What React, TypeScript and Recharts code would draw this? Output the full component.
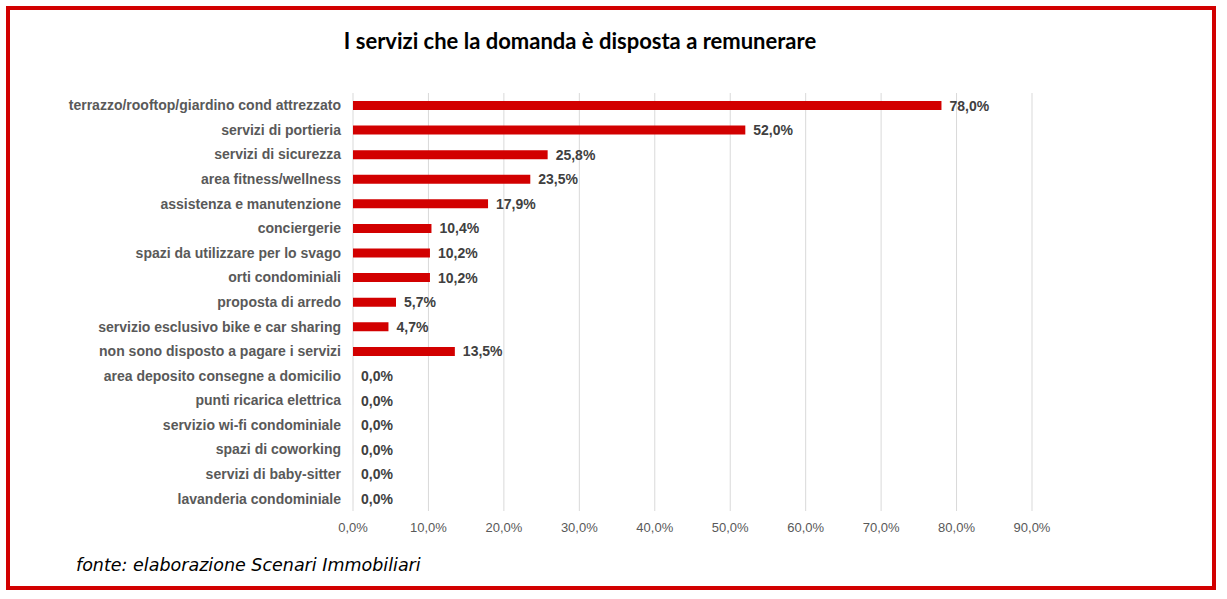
import React from "react";
import {
  BarChart,
  Bar,
  XAxis,
  YAxis,
  CartesianGrid,
  LabelList,
} from "recharts";

const categories = [
  "terrazzo/rooftop/giardino cond attrezzato",
  "servizi di portieria ",
  "servizi di sicurezza",
  "area fitness/wellness",
  "assistenza e manutenzione",
  "conciergerie",
  "spazi da utilizzare per lo svago",
  "orti condominiali",
  "proposta di arredo",
  "servizio esclusivo bike e car sharing",
  "non sono disposto a pagare i servizi ",
  "area deposito consegne a domicilio",
  "punti ricarica elettrica ",
  "servizio wi-fi condominiale",
  "spazi di coworking",
  "servizi di baby-sitter",
  "lavanderia condominiale",
];

const values = [78.0, 52.0, 25.8, 23.5, 17.9, 10.4, 10.2, 10.2, 5.7, 4.7, 13.5, 0, 0, 0, 0, 0, 0];

const xTicks = [0, 10, 20, 30, 40, 50, 60, 70, 80, 90];

const data = categories.map((name, i) => ({ name, value: values[i] }));

const pct = (v: number) => `${Number(v).toFixed(1).replace(".", ",")}%`;

const RED = "#d20000";
const FONT = "'Liberation Sans', Arial, sans-serif";

// labels drawn by hand so the 0,0% rows get one too
const ValueLabel = (props: any) => {
  const { x, y, width, height, value } = props;
  const w = Number(value) === 0 ? 0 : Number(width || 0);
  return (
    <text
      x={Number(x) + w + 8}
      y={Number(y) + Number(height) / 2}
      dy="0.36em"
      fontSize={14}
      fontWeight={700}
      fill="#404040"
      fontFamily={FONT}
    >
      {pct(value)}
    </text>
  );
};

export default function App() {
  return (
    <div style={{ position: "absolute", left: 0, top: 0, width: 1227, height: 599, background: "#fff" }}>
      <div
        style={{
          position: "absolute",
          left: 6,
          top: 6,
          width: 1202,
          height: 576,
          border: `4px solid ${RED}`,
        }}
      />
      <div
        style={{
          position: "absolute",
          left: 0,
          width: 1160,
          top: 27,
          textAlign: "center",
          fontFamily: "Lato, 'Liberation Sans', sans-serif",
          fontWeight: 700,
          fontSize: 22,
          color: "#000",
        }}
      >
        I servizi che la domanda è disposta a remunerare
      </div>
      <div style={{ position: "absolute", left: 0, top: 0 }}>
        <BarChart
          width={1227}
          height={599}
          data={data}
          layout="vertical"
          margin={{ top: 93, bottom: 58, left: 8, right: 195 }}
          barSize={9}
        >
          <CartesianGrid horizontal={false} stroke="#d9d9d9" />
          <XAxis
            type="number"
            domain={[0, 90]}
            ticks={xTicks}
            tickFormatter={pct}
            axisLine={false}
            tickLine={false}
            tickMargin={6}
            height={30}
            tick={{ fontSize: 13, fill: "#595959", fontFamily: FONT }}
            interval={0}
          />
          <YAxis
            type="category"
            dataKey="name"
            width={345}
            axisLine={false}
            tickLine={false}
            tickSize={0}
            tickMargin={12}
            interval={0}
            tick={{ fontSize: 14, fontWeight: 700, fill: "#595959", fontFamily: FONT }}
          />
          <Bar dataKey="value" fill={RED} minPointSize={0.01} isAnimationActive={false}>
            <LabelList dataKey="value" content={ValueLabel} />
          </Bar>
        </BarChart>
      </div>
      <div
        style={{
          position: "absolute",
          left: 76,
          top: 555,
          fontFamily: "'DejaVu Sans', Verdana, sans-serif",
          fontStyle: "italic",
          fontSize: 17.5,
          color: "#000",
        }}
      >
        fonte: elaborazione Scenari Immobiliari
      </div>
    </div>
  );
}
